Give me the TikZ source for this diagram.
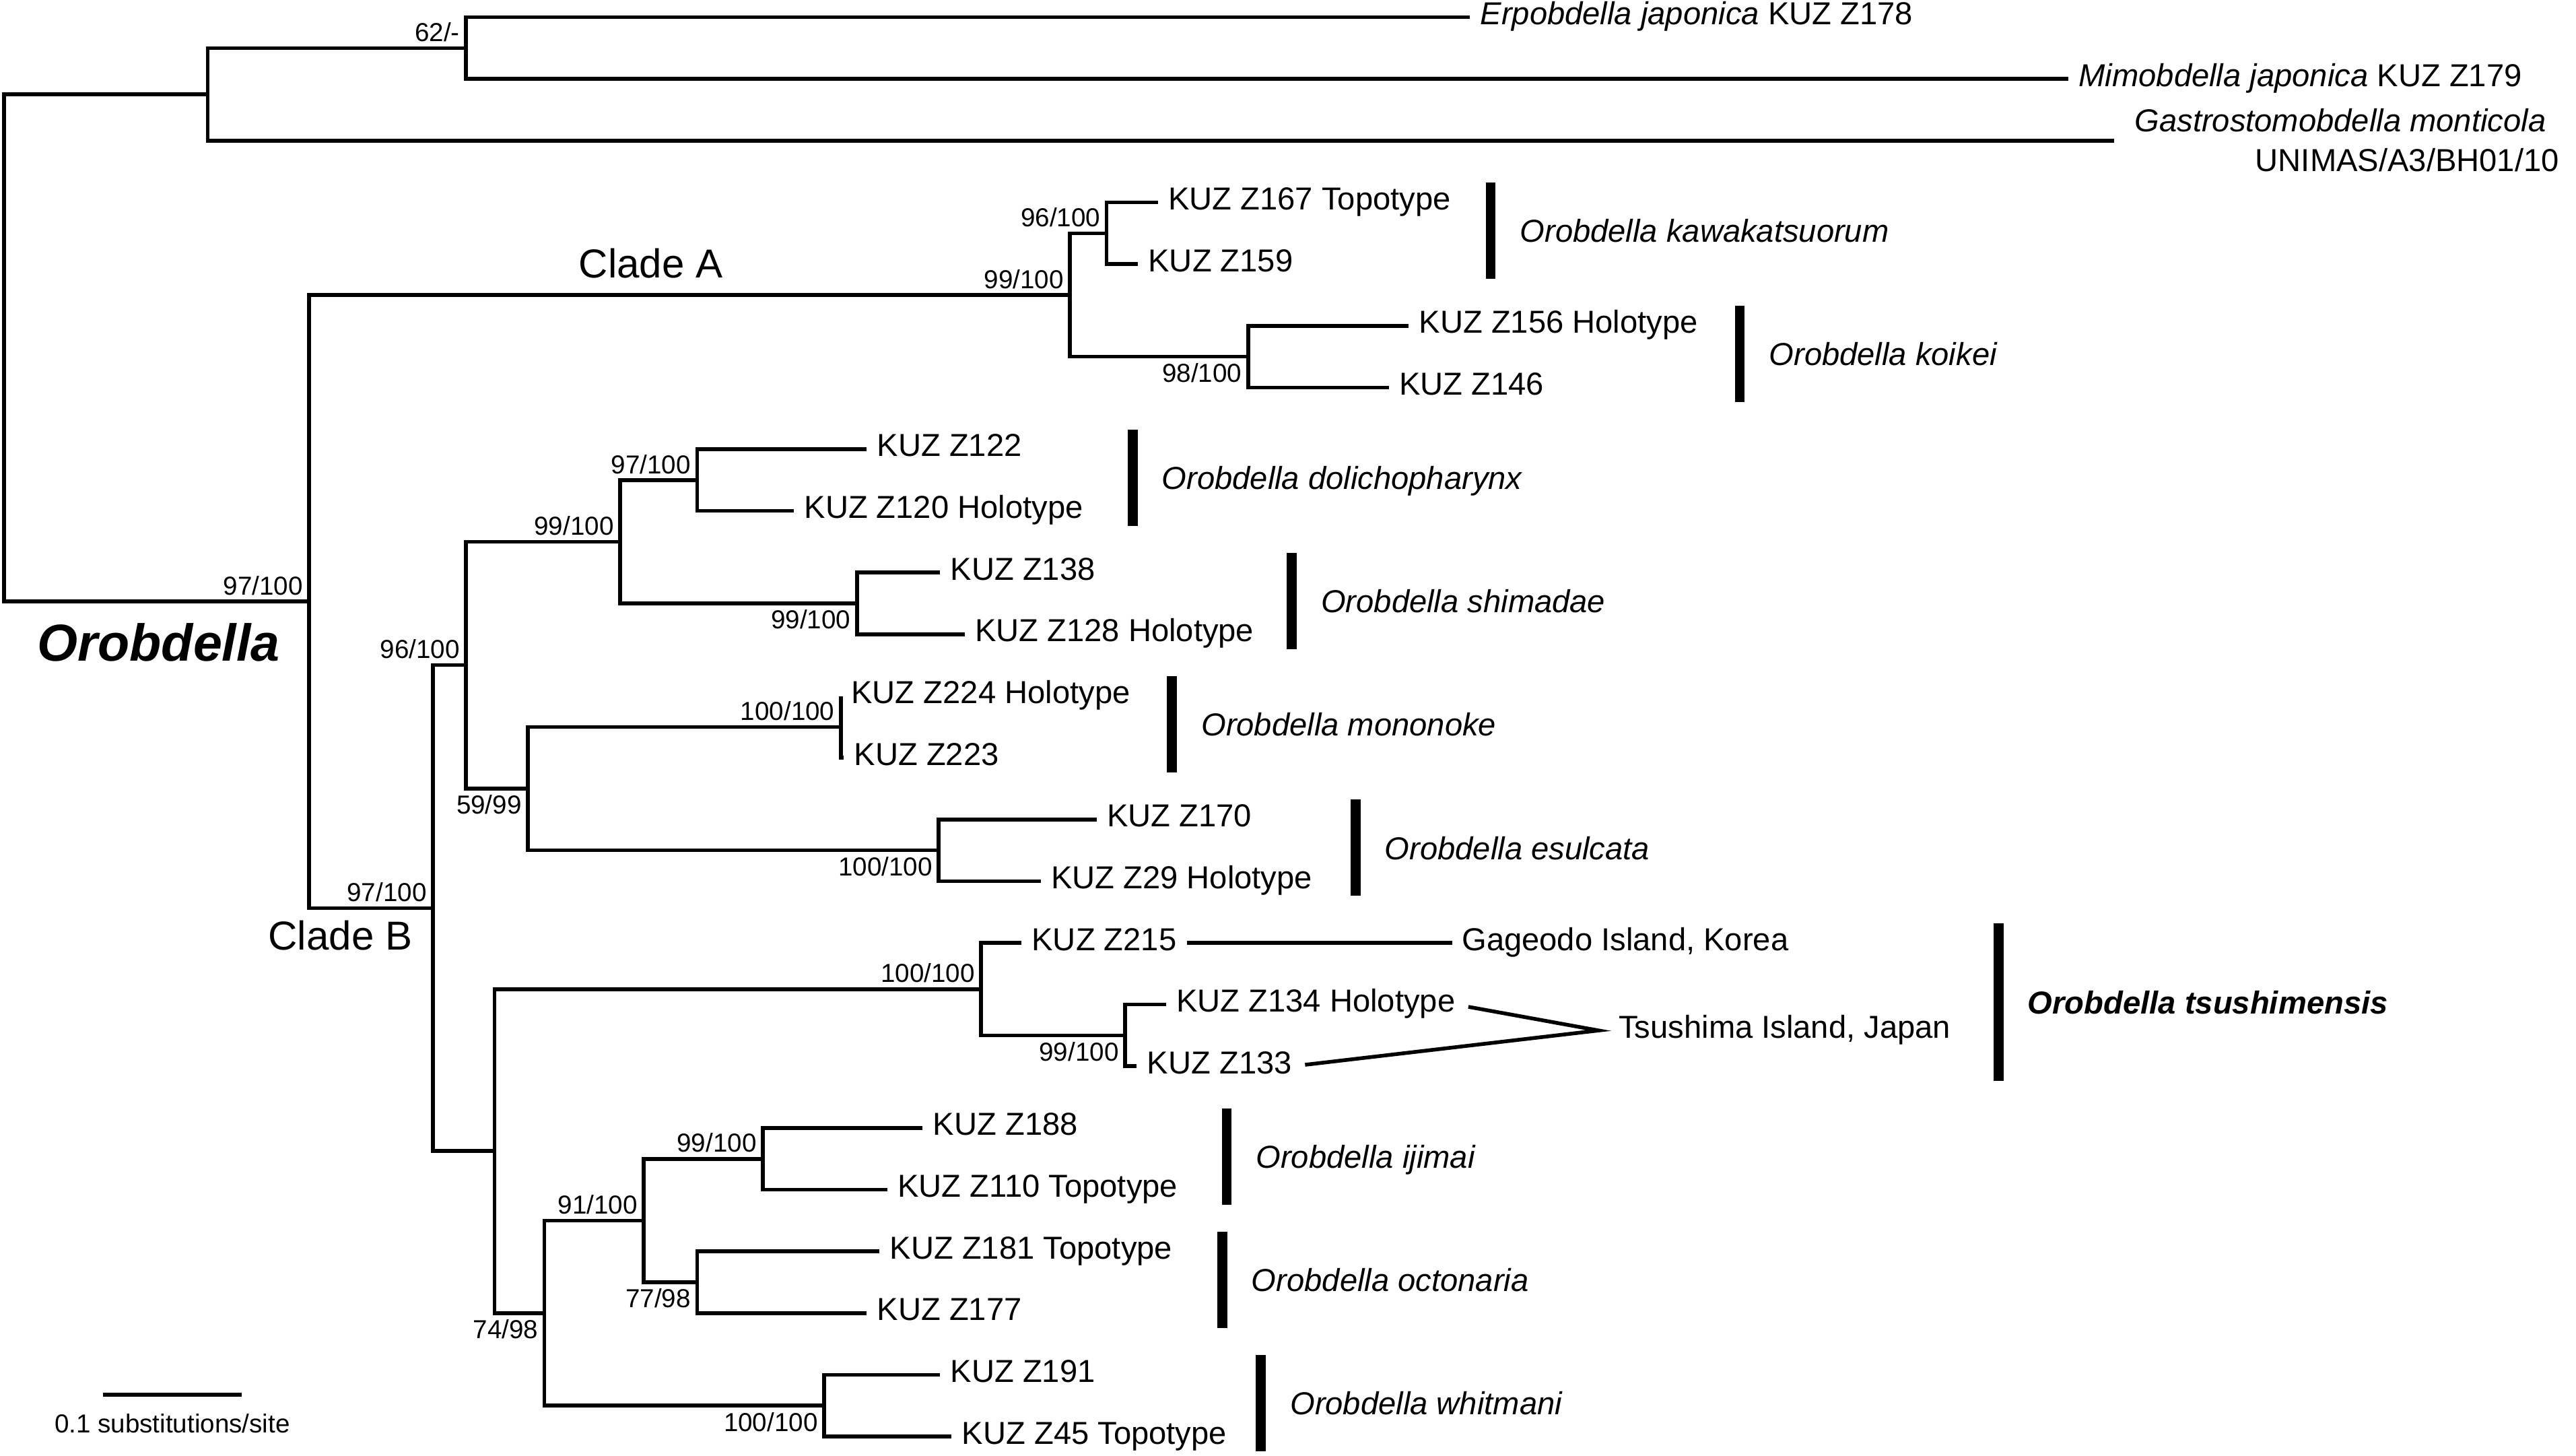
\documentclass[tikz,border=0pt]{standalone}
\usepackage{fontspec}
\setmainfont{Liberation Sans}
\usetikzlibrary{positioning}
\definecolor{treeInk}{HTML}{000000}

\begin{document}
\begin{tikzpicture}[
  x=0.2mm, y=-7.51mm,
  font=\fontsize{11}{13}\selectfont,
  branch/.style   ={draw=treeInk, line width=1.3pt},
  clade/.style    ={draw=treeInk, line width=1.2mm},
  leaf/.style     ={anchor=west, inner sep=0pt, text height=2.8mm, text depth=1mm, text=treeInk},
  species/.style  ={leaf, yshift=-0.5mm, font=\fontsize{11}{13}\selectfont\itshape},
  boot/.style     ={anchor=base east, inner sep=0pt, xshift=-0.7mm, text=treeInk, font=\fontsize{9}{10}\selectfont},
  bootUp/.style   ={boot, yshift=0.8mm},
  bootDn/.style   ={boot, yshift=-3.1mm},
  cladeName/.style={anchor=base west, inner sep=0pt, text=treeInk, font=\fontsize{14}{16}\selectfont},
]
\useasboundingbox (0,-0.2796) rectangle (1568,23.316);
% ----- Outgroups -----
\coordinate (root) at (2.5,5.359);
\coordinate (og)   at (126.4,1.25);
\coordinate (n62)  at (283.7,0.5);
\coordinate (tErp) at (894.7,0);
\coordinate (tMim) at (1259,1);
\coordinate (tGas) at (1287,2);
\coordinate (oro)  at (188.2,9.46875);
% ----- Clade A -----
\coordinate (cA)   at (651.3,4.5);
\coordinate (kaw)  at (673.6,3.5);
\coordinate (t167) at (704.8,3);
\coordinate (t159) at (692.6,4);
\coordinate (koi)  at (759.7,5.5);
\coordinate (t156) at (857.4,5);
\coordinate (t146) at (845.3,6);
% ----- Clade B -----
\coordinate (cB)   at (263.5,14.4375);
\coordinate (n96)  at (283.7,10.5);
\coordinate (n99)  at (377.4,8.5);
\coordinate (dol)  at (424.3,7.5);
\coordinate (t122) at (527.5,7);
\coordinate (t120) at (483.2,8);
\coordinate (shi)  at (521.6,9.5);
\coordinate (t138) at (572.2,9);
\coordinate (t128) at (587.1,10);
\coordinate (n59)  at (321.3,12.5);
\coordinate (mon)  at (511.8,11.5);
\coordinate (t224) at (511.8,11);
\coordinate (t223) at (513.6,12);
\coordinate (esu)  at (571.4,13.5);
\coordinate (t170) at (667.5,13);
\coordinate (t29)  at (633.4,14);
\coordinate (nLow) at (301,18.375);
\coordinate (tsu)  at (597.2,15.75);
\coordinate (t215) at (621.7,15);
\coordinate (tsuB) at (684.8,16.5);
\coordinate (t134) at (709.7,16);
\coordinate (t133) at (691.9,17);
\coordinate (n74)  at (331.4,21);
\coordinate (n91)  at (391.8,19.5);
\coordinate (iji)  at (464.3,18.5);
\coordinate (t188) at (561.6,18);
\coordinate (t110) at (540,19);
\coordinate (oct)  at (424.3,20.5);
\coordinate (t181) at (535.3,20);
\coordinate (t177) at (527.5,21);
\coordinate (whi)  at (501.6,22.5);
\coordinate (t191) at (572.2,22);
\coordinate (t45)  at (579.2,23);
% ----- Branches -----
\draw[branch] (og) -| (root) |- (oro);
\draw[branch] (n62) -| (og) |- (tGas);
\draw[branch] (tErp) -| (n62) |- (tMim);
\draw[branch] (cA) -| (oro) |- (cB);
\draw[branch] (kaw) -| (cA) |- (koi);
\draw[branch] (t167) -| (kaw) |- (t159);
\draw[branch] (t156) -| (koi) |- (t146);
\draw[branch] (n96) -| (cB) |- (nLow);
\draw[branch] (n99) -| (n96) |- (n59);
\draw[branch] (dol) -| (n99) |- (shi);
\draw[branch] (t122) -| (dol) |- (t120);
\draw[branch] (t138) -| (shi) |- (t128);
\draw[branch] (mon) -| (n59) |- (esu);
\draw[branch] (t224) -| (mon) |- (t223);
\draw[branch] (t170) -| (esu) |- (t29);
\draw[branch] (tsu) -| (nLow) |- (n74);
\draw[branch] (t215) -| (tsu) |- (tsuB);
\draw[branch] (t134) -| (tsuB) |- (t133);
\draw[branch] (n91) -| (n74) |- (whi);
\draw[branch] (iji) -| (n91) |- (oct);
\draw[branch] (t188) -| (iji) |- (t110);
\draw[branch] (t181) -| (oct) |- (t177);
\draw[branch] (t191) -| (whi) |- (t45);
% ----- Support values -----
\node[bootUp] (s62)   at (n62)  {62/-};
\node[bootUp] (sKaw)  at (kaw)  {96/100};
\node[bootUp] (sCA)   at (cA)   {99/100};
\node[bootDn] (sKoi)  at (koi)  {98/100};
\node[bootUp] (sOro)  at (oro)  {97/100};
\node[bootUp] (sCB)   at (cB)   {97/100};
\node[bootUp] (s96)   at (n96)  {96/100};
\node[bootUp] (s99)   at (n99)  {99/100};
\node[bootUp] (sDol)  at (dol)  {97/100};
\node[bootDn] (sShi)  at (shi)  {99/100};
\node[bootDn] (s59)   at (n59)  {59/99};
\node[bootUp] (sMon)  at (mon)  {100/100};
\node[bootDn] (sEsu)  at (esu)  {100/100};
\node[bootUp] (sTsu)  at (tsu)  {100/100};
\node[bootDn] (sTsuB) at (tsuB) {99/100};
\node[bootUp] (sIji)  at (iji)  {99/100};
\node[bootUp] (s91)   at (n91)  {91/100};
\node[bootDn] (sOct)  at (oct)  {77/98};
\node[bootDn] (s74)   at (n74)  {74/98};
\node[bootDn] (sWhi)  at (whi)  {100/100};
% ----- Taxon labels -----
\node[leaf, right=1.2mm of tErp] (lErp) {\textit{Erpobdella japonica} KUZ Z178};
\node[leaf, right=1.2mm of tMim] (lMim) {\textit{Mimobdella japonica} KUZ Z179};
\node[leaf, right=2.4mm of tGas, yshift=2mm] (lGas) {\textit{Gastrostomobdella monticola}};
\node[leaf, anchor=east, yshift=-2.8mm] (lUni) at (1558,2) {UNIMAS/A3/BH01/10};
\node[leaf, right=1.2mm of t167] (l167) {KUZ Z167 Topotype};
\node[leaf, right=1.2mm of t159] (l159) {KUZ Z159};
\node[leaf, right=1.2mm of t156] (l156) {KUZ Z156 Holotype};
\node[leaf, right=1.2mm of t146] (l146) {KUZ Z146};
\node[leaf, right=1.2mm of t122] (l122) {KUZ Z122};
\node[leaf, right=1.2mm of t120] (l120) {KUZ Z120 Holotype};
\node[leaf, right=1.2mm of t138] (l138) {KUZ Z138};
\node[leaf, right=1.2mm of t128] (l128) {KUZ Z128 Holotype};
\node[leaf, right=1.2mm of t224] (l224) {KUZ Z224 Holotype};
\node[leaf, right=1.2mm of t223] (l223) {KUZ Z223};
\node[leaf, right=1.2mm of t170] (l170) {KUZ Z170};
\node[leaf, right=1.2mm of t29]  (l29)  {KUZ Z29 Holotype};
\node[leaf, right=1.2mm of t215] (l215) {KUZ Z215};
\node[leaf, right=1.2mm of t134] (l134) {KUZ Z134 Holotype};
\node[leaf, right=1.2mm of t133] (l133) {KUZ Z133};
\node[leaf, right=1.2mm of t188] (l188) {KUZ Z188};
\node[leaf, right=1.2mm of t110] (l110) {KUZ Z110 Topotype};
\node[leaf, right=1.2mm of t181] (l181) {KUZ Z181 Topotype};
\node[leaf, right=1.2mm of t177] (l177) {KUZ Z177};
\node[leaf, right=1.2mm of t191] (l191) {KUZ Z191};
\node[leaf, right=1.2mm of t45]  (l45)  {KUZ Z45 Topotype};
% ----- Localities -----
\node[leaf] (lGag) at (889.5,15) {Gageodo Island, Korea};
\draw[branch, shorten <=1.2mm, shorten >=1.1mm] (l215.east) -- (lGag.west);
\coordinate (apex) at (973,16.42);
\node[leaf, right=2.4mm of apex] (lTsu) {Tsushima Island, Japan};
\draw[branch, shorten <=1.55mm, shorten >=1.55mm] (l134.east) -- (apex) -- (l133.east);
% ----- Species bars -----
\draw[clade] (907.4,2.68) -- coordinate (bKaw) (907.4,4.24);
\node[species, right=3.5mm of bKaw] (spKaw) {Orobdella kawakatsuorum};
\draw[clade] (1059,4.68) -- coordinate (bKoi) (1059,6.24);
\node[species, right=3.5mm of bKoi] (spKoi) {Orobdella koikei};
\draw[clade] (689.4,6.68) -- coordinate (bDol) (689.4,8.24);
\node[species, right=3.5mm of bDol] (spDol) {Orobdella dolichopharynx};
\draw[clade] (786.3,8.68) -- coordinate (bShi) (786.3,10.24);
\node[species, right=3.5mm of bShi] (spShi) {Orobdella shimadae};
\draw[clade] (713.4,10.68) -- coordinate (bMon) (713.4,12.24);
\node[species, right=3.5mm of bMon] (spMon) {Orobdella mononoke};
\draw[clade] (825.1,12.68) -- coordinate (bEsu) (825.1,14.24);
\node[species, right=3.5mm of bEsu] (spEsu) {Orobdella esulcata};
\draw[clade] (1216.5,14.68) -- coordinate (bTsu) (1216.5,17.24);
\node[species, right=3.5mm of bTsu, font=\fontsize{11}{13}\selectfont\bfseries\itshape] (spTsu) {Orobdella tsushimensis};
\draw[clade] (746.7,17.68) -- coordinate (bIji) (746.7,19.24);
\node[species, right=3.5mm of bIji] (spIji) {Orobdella ijimai};
\draw[clade] (744,19.68) -- coordinate (bOct) (744,21.24);
\node[species, right=3.5mm of bOct] (spOct) {Orobdella octonaria};
\draw[clade] (767.5,21.68) -- coordinate (bWhi) (767.5,23.24);
\node[species, right=3.5mm of bWhi] (spWhi) {Orobdella whitmani};
% ----- Clade names -----
\node[cladeName] (nmCladeA) at (352,4.224)  {Clade A};
\node[cladeName] (nmCladeB) at (163,15.113) {Clade B};
\node[cladeName, font=\fontsize{18}{20}\selectfont\bfseries\itshape] (nmOro) at (22.4,10.43) {Orobdella};
% ----- Scale bar -----
\coordinate (sbL) at (62.7,22.325);
\coordinate (sbR) at (147.1,22.325);
\draw[branch] (sbL) -- coordinate (sbMid) (sbR);
\node[anchor=base, inner sep=0pt, yshift=-4.6mm, font=\fontsize{9}{10}\selectfont] (lScale) at (sbMid) {0.1 substitutions/site};
\end{tikzpicture}
\end{document}
